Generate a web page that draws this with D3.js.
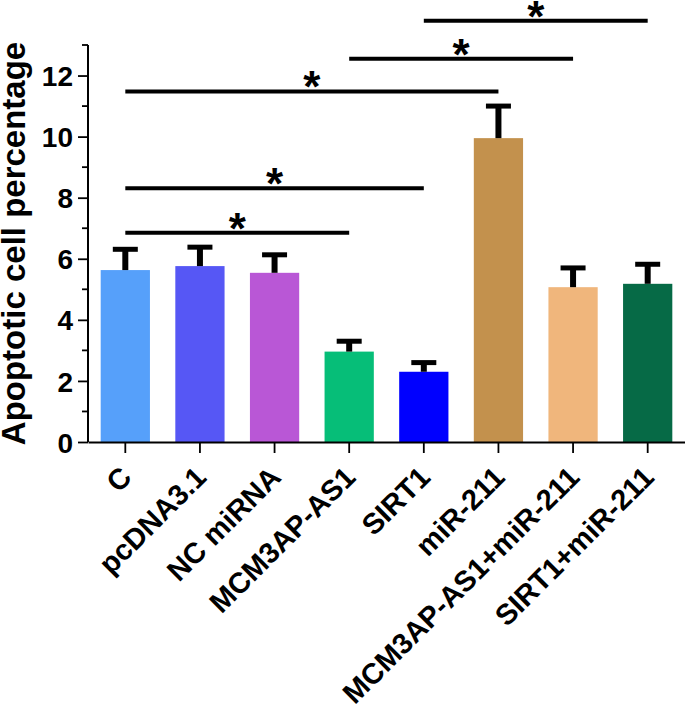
<!DOCTYPE html>
<html>
<head>
<meta charset="utf-8">
<script src="https://cdn.jsdelivr.net/npm/d3@7"></script>
<style>
  body { margin: 0; background: #fff; }
  svg text { font-family: "Liberation Sans", Arial, sans-serif; font-weight: bold; fill: #000; }
</style>
</head>
<body>
<div id="chart"></div>
<script>
// data
const groups = ['C', 'pcDNA3.1', 'NC miRNA', 'MCM3AP-AS1', 'SIRT1', 'miR-211', 'MCM3AP-AS1+miR-211', 'SIRT1+miR-211'];
const means = [5.63, 5.76, 5.54, 2.96, 2.30, 9.95, 5.07, 5.18];
const errors = [0.68, 0.62, 0.59, 0.34, 0.30, 1.05, 0.63, 0.64];
const barColors = ['#56a0fa', '#5657f5', '#b957d6', '#06be78', '#0000ff', '#c3914d', '#f0b67c', '#066a46'];
const yTicks = [0, 2, 4, 6, 8, 10, 12];
const yMinorTicks = [1, 3, 5, 7, 9, 11, 13];

// significance brackets: from group, to group, height in data units
const sigFrom = ['C', 'C', 'C', 'MCM3AP-AS1', 'SIRT1'];
const sigTo = ['MCM3AP-AS1', 'SIRT1', 'miR-211', 'MCM3AP-AS1+miR-211', 'SIRT1+miR-211'];
const sigLevel = [6.85, 8.31, 11.48, 12.55, 13.79];

const width = 685, height = 714;
const margin = { left: 88, top: 45, right: 0, bottom: 272 };

const svg = d3.select('#chart').append('svg')
    .attr('width', width)
    .attr('height', height);

const x = d3.scaleBand()
    .domain(groups)
    .range([margin.left, width - margin.right])
    .paddingInner(0.34)
    .paddingOuter(0.17);

const y = d3.scaleLinear()
    .domain([0, 13])
    .range([height - margin.bottom, margin.top]);

// bars
svg.append('g')
    .selectAll('rect')
    .data(groups)
    .enter().append('rect')
    .attr('x', d => x(d))
    .attr('width', x.bandwidth())
    .attr('y', (d, i) => y(means[i]))
    .attr('height', (d, i) => y(0) - y(means[i]))
    .attr('fill', (d, i) => barColors[i]);

// error bars (upper only)
const eb = svg.append('g');
groups.forEach((g, i) => {
    const cx = x(g) + x.bandwidth() / 2;
    eb.append('line')
        .attr('x1', cx).attr('x2', cx)
        .attr('y1', y(means[i])).attr('y2', y(means[i] + errors[i]))
        .attr('stroke', '#000').attr('stroke-width', 6);
    eb.append('line')
        .attr('x1', cx - 12.5).attr('x2', cx + 12.5)
        .attr('y1', y(means[i] + errors[i])).attr('y2', y(means[i] + errors[i]))
        .attr('stroke', '#000').attr('stroke-width', 5);
});

// y axis
const yAxis = svg.append('g')
    .attr('transform', `translate(${margin.left},0)`)
    .call(d3.axisLeft(y).tickValues(yTicks).tickSize(10).tickPadding(5));
yAxis.append('g')
    .selectAll('line')
    .data(yMinorTicks)
    .enter().append('line')
    .attr('x1', -6).attr('x2', 0)
    .attr('y1', d => y(d)).attr('y2', d => y(d))
    .attr('stroke', '#000').attr('stroke-width', 1.8);
yAxis.select('.domain').attr('stroke-width', 2).attr('d', `M0,${y(13)}V${y(0)}`);
yAxis.selectAll('.tick line').attr('stroke-width', 1.8);
yAxis.selectAll('.tick text')
    .style('font-size', '28px')
    .attr('dy', '0.36em');

// x axis
const xAxis = svg.append('g')
    .attr('transform', `translate(0,${y(0)})`)
    .call(d3.axisBottom(x).tickSize(11).tickSizeOuter(0));
xAxis.select('.domain').attr('stroke-width', 2);
xAxis.selectAll('.tick line').attr('stroke-width', 1.8);
xAxis.selectAll('.tick text')
    .style('font-size', '29px')
    .attr('text-anchor', 'end')
    .attr('dy', 0)
    .attr('y', 0)
    .attr('transform', 'translate(8,37) rotate(-45)');

// y title
svg.append('text')
    .attr('transform', `translate(25,${(y(0) + y(13)) / 2}) rotate(-90)`)
    .attr('text-anchor', 'middle')
    .style('font-size', '33px')
    .text('Apoptotic cell percentage');

// significance lines and stars
const sig = svg.append('g');
sigFrom.forEach((f, i) => {
    const x1 = x(f) + x.bandwidth() / 2;
    const x2 = x(sigTo[i]) + x.bandwidth() / 2;
    const ly = y(sigLevel[i]);
    sig.append('line')
        .attr('x1', x1).attr('x2', x2)
        .attr('y1', ly).attr('y2', ly)
        .attr('stroke', '#000').attr('stroke-width', 4);
    sig.append('text')
        .attr('x', (x1 + x2) / 2)
        .attr('y', ly + 11)
        .attr('text-anchor', 'middle')
        .style('font-size', '44px')
        .text('*');
});
</script>
</body>
</html>
